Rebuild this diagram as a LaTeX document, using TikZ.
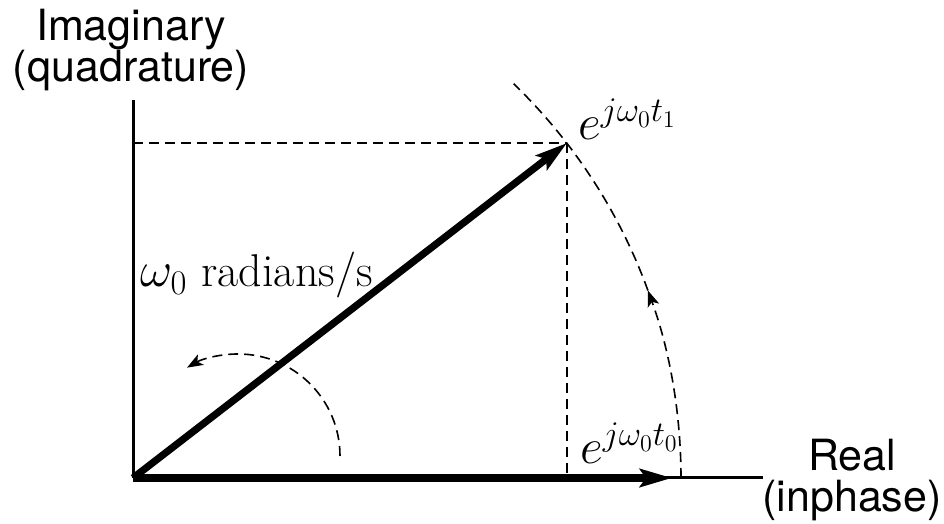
\documentclass[tikz,border=0pt]{standalone}
\usepackage{fontspec}
\newfontfamily\axisfont{TeX Gyre Heros}
\usetikzlibrary{arrows.meta}

\begin{document}
\begin{tikzpicture}[
    x=0.5pt, y=0.5pt,
    axis/.style={line width=1.5pt},
    phasor/.style={line width=3.6pt, -{Stealth[length=16pt, width=9pt, inset=3pt]}},
    guide/.style={line width=0.8pt, dash pattern=on 5pt off 3pt},
    turn/.style={guide, -{Stealth[length=8pt, width=6pt, inset=2pt]}},
    axislabel/.style={font=\axisfont\fontsize{21.5}{20.5}\selectfont, align=center, inner sep=0pt},
    mathlabel/.style={font=\fontsize{23}{27}\selectfont, inner sep=0pt}
]
\useasboundingbox (0,0) rectangle (944,524);

% Origin, phasor tip and projections
\coordinate (O) at (133,46);
\coordinate (tip) at (567,381);
\coordinate (ytop) at (133,424);
\coordinate (xend) at (763,46);
\coordinate (xtip) at (672,46);
\coordinate (yproj) at (133,381);
\coordinate (xproj) at (567,46);

% Axes
\draw[axis] (O) -- (ytop);
\draw[axis] (O) -- (xend);

% Projections of the tip
\draw[guide] (yproj) -- (tip);
\draw[guide] (tip) -- (xproj);

% Phasors
\draw[phasor] (O) -- (xtip);
\draw[phasor] (O) -- (tip);

% Rotation arcs
\coordinate (arcstart) at (681,46);
\draw[turn] (arcstart) arc[start angle=0, end angle=20, radius=548] coordinate (arcmid);
\draw[guide] (arcmid) arc[start angle=20, end angle=46, radius=548];
\coordinate (swing) at (340,68);
\draw[turn] (swing) arc[start angle=0, end angle=120, radius=102];

% Labels
\node[axislabel] (imag) at (131,474) {Imaginary\\(quadrature)};
\node[axislabel] (real) at (852,44) {Real\\(inphase)};
\node[mathlabel, anchor=base west] (eone) at (578,384) {$e^{j\omega_0 t_1}$};
\node[mathlabel, anchor=base west] (ezero) at (580,60) {$e^{j\omega_0 t_0}$};
\node[mathlabel, anchor=base west] (rate) at (140,237) {$\omega_0$ radians/s};

\end{tikzpicture}
\end{document}
